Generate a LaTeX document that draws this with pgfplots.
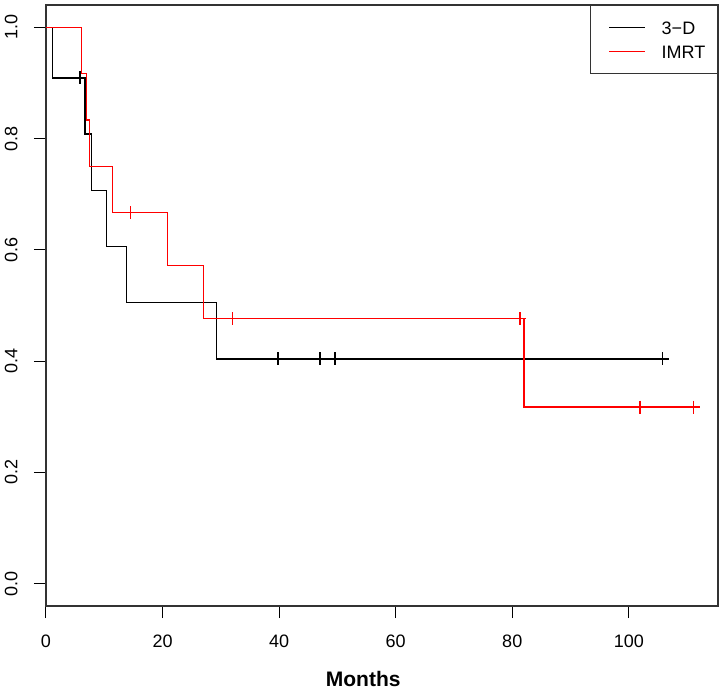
\documentclass[border=0pt]{standalone}
\usepackage{fontspec}
\setmainfont{Liberation Sans}
\usepackage{pgfplots}
\pgfplotsset{compat=1.18}
\begin{document}
\begin{tikzpicture}
\begin{axis}[
  scale only axis,
  width=336pt, height=300.5pt,
  xmin=0, xmax=115.3, ymin=-0.04, ymax=1.04,
  xtick={0,20,40,60,80,100},
  ytick={0,0.2,0.4,0.6,0.8,1.0},
  tick align=outside, tick pos=left,
  major tick length=6pt,
  tick style={black, line width=0.5pt},
  axis line style={black!80, line width=0.6pt},
  /pgf/number format/assume math mode=true,
  tick label style={font=\fontsize{9}{10}\selectfont},
  y tick label style={/pgf/number format/.cd, fixed, fixed zerofill, precision=1, /tikz/.cd},
  yticklabel style={rotate=90, anchor=south, inner sep=0pt},
  yticklabel shift=8pt,
  xticklabel style={anchor=north, inner sep=0pt, yshift=-8.5pt},
  xlabel={Months},
  xlabel style={font=\fontsize{10.5}{12}\selectfont\bfseries, at={(axis description cs:0.472,0)}, anchor=base, yshift=-40.3pt, inner sep=0pt},
  legend style={at={(rel axis cs:1,1)}, anchor=north east, draw=black!80, line width=0.6pt,
    inner xsep=6pt, inner ysep=5pt, row sep=0pt, column sep=8pt,
    nodes={inner xsep=0pt, inner ysep=2.75pt, text height=6.5pt, text depth=0pt, font=\fontsize{9}{10}\selectfont}},
  legend cell align=left,
  legend image code/.code={\path (-3pt,0pt); \draw[#1] (0pt,0pt) -- (18pt,0pt);},
]
% 3-D arm
\addplot[const plot, black, line width=0.7pt] coordinates {
  (0,1) (1.15,0.9091) (6.7,0.8081) (7.8,0.7071) (10.4,0.6061) (13.8,0.5051) (29.3,0.4040) (105.8,0.4040)
};
\addlegendentry{3−D}
% IMRT arm
\addplot[const plot, red, line width=0.7pt] coordinates {
  (0,1) (6.1,0.9167) (7.0,0.8333) (7.5,0.75) (11.4,0.6667) (20.8,0.5714) (27.0,0.4762) (82.0,0.3175) (111.1,0.3175)
};
\addlegendentry{IMRT}
% censored observations
\addplot[only marks, mark=+, mark size=3.25pt, black, line width=0.7pt, forget plot] coordinates {
  (5.8,0.9091) (39.8,0.4040) (47.0,0.4040) (49.6,0.4040) (105.8,0.4040)
};
\addplot[only marks, mark=+, mark size=3.25pt, red, line width=0.7pt, forget plot] coordinates {
  (14.5,0.6667) (32.0,0.4762) (81.3,0.4762) (101.9,0.3175) (111.1,0.3175)
};
\coordinate (sw) at (rel axis cs:0,0);
\coordinate (ne) at (rel axis cs:1,1);
\end{axis}
\pgfresetboundingbox
\path[use as bounding box] ([shift={(-23pt,-42.5pt)}]sw) rectangle ([shift={(3pt,2.5pt)}]ne);
\end{tikzpicture}
\end{document}
